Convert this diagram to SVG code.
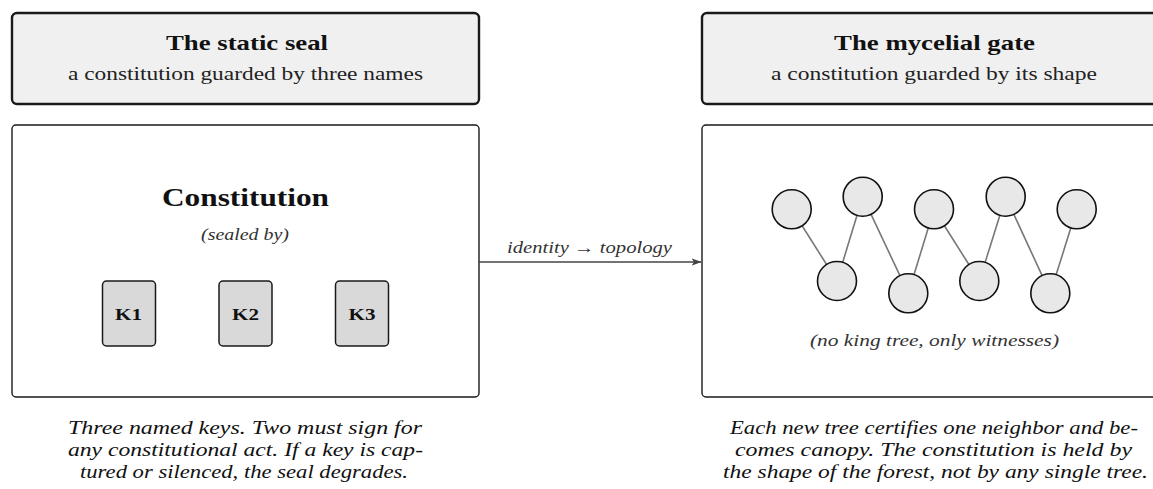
<svg xmlns="http://www.w3.org/2000/svg" width="1153" height="489" viewBox="0 0 1153 489">
  <style>
    .hdr { fill: #f0f0f0; stroke: #1a1a1a; stroke-width: 2.4; }
    .panel { fill: #ffffff; stroke: #1a1a1a; stroke-width: 1.4; }
    .key { fill: #d9d9d9; stroke: #1a1a1a; stroke-width: 1.5; }
    .tree { fill: #e8e8e8; stroke: #111111; stroke-width: 1.6; }
    .link { stroke: #777777; stroke-width: 1.6; fill: none; }
    .serif { font-family: "Liberation Serif", "DejaVu Serif", serif; fill: #111111; }
    .title { font-size: 21px; font-weight: bold; text-anchor: middle; }
    .sub { font-size: 18.5px; text-anchor: middle; fill: #222222; }
    .big { font-size: 26px; font-weight: bold; text-anchor: middle; }
    .note { font-size: 16px; font-style: italic; text-anchor: middle; fill: #333333; }
    .klabel { font-size: 17px; font-weight: bold; text-anchor: middle; }
    .cap { font-size: 18px; font-style: italic; text-anchor: middle; }
  </style>
  <defs>
    <marker id="arrow" viewBox="0 0 10 10" refX="9.5" refY="5" markerWidth="10" markerHeight="10" markerUnits="userSpaceOnUse" orient="auto">
      <path d="M0,1.2 L10,5 L0,8.8 L2.5,5 Z" fill="#444444"/>
    </marker>
  </defs>

  <!-- left column: the static seal -->
  <g id="static-header">
    <rect class="hdr" x="12" y="13" width="467" height="91" rx="5"/>
    <text class="serif title" x="247" y="50" textLength="162" lengthAdjust="spacingAndGlyphs">The static seal</text>
    <text class="serif sub" x="245.5" y="80" textLength="355" lengthAdjust="spacingAndGlyphs">a constitution guarded by three names</text>
  </g>
  <g id="static-panel">
    <rect class="panel" x="12" y="125" width="467" height="272" rx="4"/>
    <text class="serif big" x="245.5" y="206" textLength="167" lengthAdjust="spacingAndGlyphs">Constitution</text>
    <text class="serif note" x="245" y="240" textLength="88" lengthAdjust="spacingAndGlyphs">(sealed by)</text>
  </g>
  <g id="key-k1">
    <rect class="key" x="102.5" y="281" width="53" height="65" rx="4"/>
    <text class="serif klabel" x="128.5" y="320" textLength="27" lengthAdjust="spacingAndGlyphs">K1</text>
  </g>
  <g id="key-k2">
    <rect class="key" x="219" y="281" width="53" height="65" rx="4"/>
    <text class="serif klabel" x="245.5" y="320" textLength="27" lengthAdjust="spacingAndGlyphs">K2</text>
  </g>
  <g id="key-k3">
    <rect class="key" x="335.5" y="281" width="53" height="65" rx="4"/>
    <text class="serif klabel" x="362" y="320" textLength="27" lengthAdjust="spacingAndGlyphs">K3</text>
  </g>
  <g id="static-caption">
    <text class="serif cap" x="245" y="434" textLength="354" lengthAdjust="spacingAndGlyphs">Three named keys.  Two must sign for</text>
    <text class="serif cap" x="245.5" y="456" textLength="355" lengthAdjust="spacingAndGlyphs">any constitutional act.  If a key is cap-</text>
    <text class="serif cap" x="244" y="478" textLength="328" lengthAdjust="spacingAndGlyphs">tured or silenced, the seal degrades.</text>
  </g>

  <!-- right column: the mycelial gate -->
  <g id="mycelial-header">
    <rect class="hdr" x="702" y="13" width="470" height="91" rx="5"/>
    <text class="serif title" x="934.5" y="50" textLength="201" lengthAdjust="spacingAndGlyphs">The mycelial gate</text>
    <text class="serif sub" x="934" y="80" textLength="326" lengthAdjust="spacingAndGlyphs">a constitution guarded by its shape</text>
  </g>
  <g id="mycelial-panel">
    <rect class="panel" x="702" y="125" width="470" height="272" rx="4"/>
    <text class="serif note" x="934.5" y="346" textLength="249" lengthAdjust="spacingAndGlyphs">(no king tree, only witnesses)</text>
  </g>

  <!-- connectors -->
  <g id="connectors">
    <line x1="479" y1="262" x2="701" y2="262" stroke="#444444" stroke-width="1.3" marker-end="url(#arrow)"/>
    <text class="serif note" x="589.5" y="253" textLength="165" lengthAdjust="spacingAndGlyphs">identity → topology</text>
    <line class="link" x1="791.7" y1="209.3" x2="837" y2="281"/>
    <line class="link" x1="837" y1="281" x2="862.7" y2="196.7"/>
    <line class="link" x1="862.7" y1="196.7" x2="908.3" y2="293.3"/>
    <line class="link" x1="908.3" y1="293.3" x2="934" y2="209.3"/>
    <line class="link" x1="934" y1="209.3" x2="979.3" y2="281"/>
    <line class="link" x1="979.3" y1="281" x2="1005.7" y2="196.7"/>
    <line class="link" x1="1005.7" y1="196.7" x2="1050.3" y2="293.3"/>
    <line class="link" x1="1050.3" y1="293.3" x2="1076.7" y2="209.3"/>
  </g>

  <!-- trees of the forest -->
  <g id="tree-1"><circle class="tree" cx="791.7" cy="209.3" r="19.5"/></g>
  <g id="tree-2"><circle class="tree" cx="862.7" cy="196.7" r="19.5"/></g>
  <g id="tree-3"><circle class="tree" cx="934" cy="209.3" r="19.5"/></g>
  <g id="tree-4"><circle class="tree" cx="1005.7" cy="196.7" r="19.5"/></g>
  <g id="tree-5"><circle class="tree" cx="1076.7" cy="209.3" r="19.5"/></g>
  <g id="tree-6"><circle class="tree" cx="837" cy="281" r="19.5"/></g>
  <g id="tree-7"><circle class="tree" cx="908.3" cy="293.3" r="19.5"/></g>
  <g id="tree-8"><circle class="tree" cx="979.3" cy="281" r="19.5"/></g>
  <g id="tree-9"><circle class="tree" cx="1050.3" cy="293.3" r="19.5"/></g>

  <g id="mycelial-caption">
    <text class="serif cap" x="934" y="434" textLength="408" lengthAdjust="spacingAndGlyphs">Each new tree certifies one neighbor and be-</text>
    <text class="serif cap" x="933.5" y="456" textLength="397" lengthAdjust="spacingAndGlyphs">comes canopy.  The constitution is held by</text>
    <text class="serif cap" x="935.5" y="478" textLength="425" lengthAdjust="spacingAndGlyphs">the shape of the forest, not by any single tree.</text>
  </g>
</svg>
